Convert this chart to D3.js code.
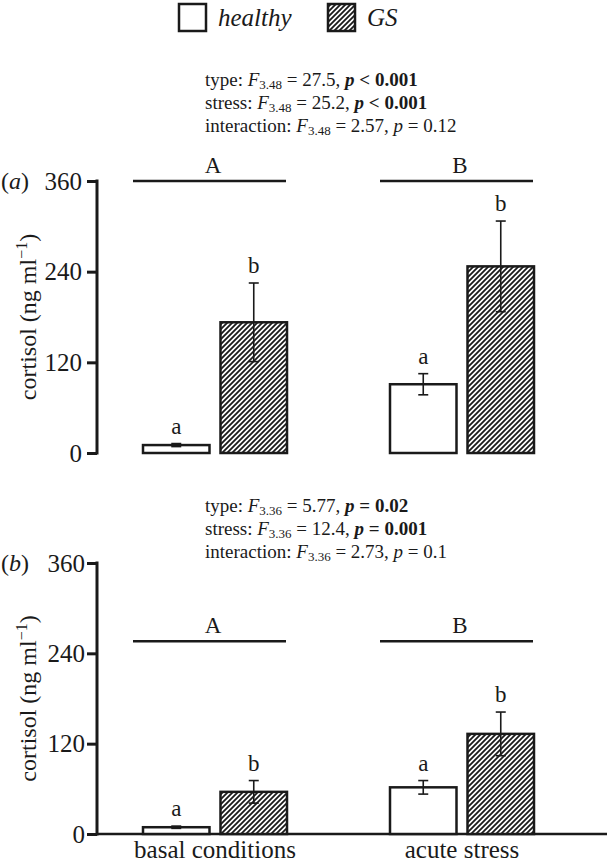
<!DOCTYPE html>
<html>
<head>
<meta charset="utf-8">
<script src="https://cdn.jsdelivr.net/npm/d3@7"></script>
<style>
  html, body { margin: 0; padding: 0; background: #fff; }
  svg { display: block; }
  svg text { font-family: "Liberation Serif", "Times New Roman", serif; }
</style>
</head>
<body>
<svg id="chart" width="610" height="866"></svg>
<script>
// ---- data ----
const categories = ["basal conditions", "acute stress"];
const series = ["healthy", "GS"];
const yTicks = [0, 120, 240, 360];
const groupLetters = ["A", "B"];
const seriesLetters = ["a", "b"];

// panel (a)
const healthyA = [10.5, 91];
const healthyAErr = [2, 14];
const gsA = [173, 247];
const gsAErr = [52, 60];
const groupLineA = 360;
const statsA = [
  { label: "type: ", df: "3.48", F: "27.5", op: "<", p: "0.001", bold: true },
  { label: "stress: ", df: "3.48", F: "25.2", op: "<", p: "0.001", bold: true },
  { label: "interaction: ", df: "3.48", F: "2.57", op: "=", p: "0.12", bold: false }
];

// panel (b)
const healthyB = [9, 62];
const healthyBErr = [1.5, 9];
const gsB = [56, 133];
const gsBErr = [15, 29];
const groupLineB = 256;
const statsB = [
  { label: "type: ", df: "3.36", F: "5.77", op: "=", p: "0.02", bold: true },
  { label: "stress: ", df: "3.36", F: "12.4", op: "=", p: "0.001", bold: true },
  { label: "interaction: ", df: "3.36", F: "2.73", op: "=", p: "0.1", bold: false }
];

// ---- drawing ----
const ink = "#1a1a1a";
const svg = d3.select("#chart");
const defs = svg.append("defs");
const pat = defs.append("pattern")
  .attr("id", "hatch").attr("patternUnits", "userSpaceOnUse")
  .attr("width", 5).attr("height", 5);
pat.append("rect").attr("width", 5).attr("height", 5).attr("fill", "#fff");
pat.append("path")
  .attr("d", "M-1,6 L6,-1 M-2,2 L2,-2 M3,7 L7,3")
  .attr("stroke", ink).attr("stroke-width", 1.8);

const fill = d3.scaleOrdinal().domain(series).range(["#fff", "url(#hatch)"]);

const x0 = d3.scalePoint().domain(categories).range([215, 462]);
const x1 = d3.scaleBand().domain(series).range([-72, 72]).paddingInner(0.142).paddingOuter(0);

const axisX = 97;

// legend
const legend = svg.append("g");
const legendX = [179, 328];
series.forEach((s, i) => {
  legend.append("rect")
    .attr("x", legendX[i]).attr("y", 4).attr("width", 27).attr("height", 27)
    .attr("fill", fill(s)).attr("stroke", ink).attr("stroke-width", 2.5);
  legend.append("text")
    .attr("x", legendX[i] + 39).attr("y", 26)
    .attr("font-size", 25).attr("font-style", "italic").attr("fill", ink)
    .text(s);
});

function drawStats(stats, x, y0) {
  const g = svg.append("g").attr("fill", ink).attr("font-size", 19);
  stats.forEach((st, i) => {
    const t = g.append("text").attr("x", x).attr("y", y0 + i * 23);
    t.append("tspan").text(st.label);
    t.append("tspan").attr("font-style", "italic").text("F");
    t.append("tspan").attr("font-size", 13).attr("dy", 3).text(st.df);
    t.append("tspan").attr("dy", -3).text(" = " + st.F + ", ");
    const pw = st.bold ? "bold" : "normal";
    t.append("tspan").attr("font-style", "italic").attr("font-weight", pw).text("p");
    t.append("tspan").attr("font-weight", pw).text(" " + st.op + " " + st.p);
  });
}

function drawPanel(cfg) {
  const y = d3.scaleLinear().domain([0, 360]).range([cfg.bottom, cfg.top]);
  const g = svg.append("g");

  // y axis
  const ax = g.append("g").attr("transform", `translate(${axisX},0)`)
    .call(d3.axisLeft(y).tickValues(yTicks).tickSize(10).tickPadding(cfg.tickPad).tickFormat(d3.format("d")));
  ax.attr("font-family", null);
  ax.select(".domain").attr("stroke", ink).attr("stroke-width", 3)
    .attr("d", `M0,${cfg.bottom + 1.5}V${cfg.top - 1.5}`);
  ax.selectAll(".tick line").attr("stroke", ink).attr("stroke-width", 3);
  ax.selectAll(".tick text").attr("font-size", 25).attr("fill", ink);

  // baseline
  if (cfg.baseline) {
    g.append("line").attr("x1", axisX).attr("x2", 607)
      .attr("y1", y(0)).attr("y2", y(0))
      .attr("stroke", ink).attr("stroke-width", 2.5);
  }

  // y label
  const yl = g.append("text")
    .attr("transform", `translate(36,${(cfg.top + cfg.bottom) / 2}) rotate(-90)`)
    .attr("text-anchor", "middle").attr("font-size", 24).attr("fill", ink);
  yl.append("tspan").text("cortisol (ng ml");
  yl.append("tspan").attr("font-size", 16).attr("dy", -9).text("\u22121");
  yl.append("tspan").attr("dy", 9).text(")");

  // panel label
  const pl = g.append("text").attr("x", 1).attr("y", cfg.top + 8)
    .attr("font-size", 24).attr("fill", ink);
  pl.append("tspan").text("(");
  pl.append("tspan").attr("font-style", "italic").text(cfg.label);
  pl.append("tspan").text(")");

  // group lines + letters
  categories.forEach((c, i) => {
    const cx = x0(c);
    g.append("line")
      .attr("x1", cx - 82).attr("x2", cx + 71)
      .attr("y1", y(cfg.groupLine)).attr("y2", y(cfg.groupLine))
      .attr("stroke", ink).attr("stroke-width", 2.5);
    g.append("text").attr("x", cx - 2).attr("y", y(cfg.groupLine) - 8)
      .attr("text-anchor", "middle").attr("font-size", 23).attr("fill", ink)
      .text(groupLetters[i]);
  });

  // bars
  const vals = { healthy: cfg.healthy, GS: cfg.gs };
  const errs = { healthy: cfg.healthyErr, GS: cfg.gsErr };
  categories.forEach((c, i) => {
    series.forEach((s, j) => {
      const v = vals[s][i], e = errs[s][i];
      const bx = x0(c) + x1(s);
      const bw = x1.bandwidth();
      g.append("rect")
        .attr("x", bx).attr("y", y(v))
        .attr("width", bw).attr("height", y(0) - y(v))
        .attr("fill", fill(s)).attr("stroke", ink).attr("stroke-width", 2.5);
      const mx = bx + bw / 2;
      const eb = g.append("g").attr("stroke", ink).attr("stroke-width", 1.6);
      eb.append("line").attr("x1", mx).attr("x2", mx).attr("y1", y(v - e)).attr("y2", y(v + e));
      eb.append("line").attr("x1", mx - 5).attr("x2", mx + 5).attr("y1", y(v + e)).attr("y2", y(v + e));
      eb.append("line").attr("x1", mx - 5).attr("x2", mx + 5).attr("y1", y(v - e)).attr("y2", y(v - e));
      g.append("text").attr("x", mx).attr("y", y(v + e) - 10)
        .attr("text-anchor", "middle").attr("font-size", 23).attr("fill", ink)
        .text(seriesLetters[j]);
    });
  });

  // x labels
  if (cfg.xLabels) {
    categories.forEach(c => {
      g.append("text").attr("x", x0(c)).attr("y", 858)
        .attr("text-anchor", "middle").attr("font-size", 25).attr("fill", ink)
        .text(c);
    });
  }
}

drawStats(statsA, 205, 86);
drawPanel({ top: 181, bottom: 453, label: "a", tickPad: 5, healthy: healthyA, healthyErr: healthyAErr,
  gs: gsA, gsErr: gsAErr, groupLine: groupLineA, baseline: false, xLabels: false });

drawStats(statsB, 205, 512);
drawPanel({ top: 563, bottom: 834, label: "b", tickPad: 2, healthy: healthyB, healthyErr: healthyBErr,
  gs: gsB, gsErr: gsBErr, groupLine: groupLineB, baseline: true, xLabels: true });
</script>
</body>
</html>
